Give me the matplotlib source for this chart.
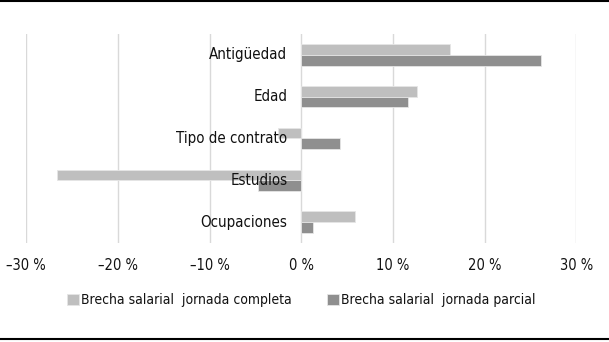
import matplotlib
matplotlib.use('Agg')
from matplotlib import pyplot as plt
from matplotlib.lines import Line2D
import numpy as np

plt.rcParams['font.family'] = ['DejaVu Sans']
plt.rcParams['font.stretch'] = 'condensed'

categories = ['Antigüedad', 'Edad', 'Tipo de contrato', 'Estudios', 'Ocupaciones']
completa = [16.2, 12.6, -2.6, -26.7, 5.9]   # jornada completa
parcial = [26.1, 11.6, 4.2, -4.7, 1.3]      # jornada parcial
labels = ['Brecha salarial  jornada completa', 'Brecha salarial  jornada parcial']
colors = ['#bfbfbf', '#8f8f8f']
xticks = [-30, -20, -10, 0, 10, 20, 30]
xticklabels = ['\u201330 %', '\u201320 %', '\u201310 %', '0 %', '10 %', '20 %', '30 %']

fig = plt.figure(figsize=(6.09, 3.42), dpi=100)
ax = fig.add_axes([0.0432, 0.2895, 0.9034, 0.6111])

y = np.arange(len(categories))
h = 0.256
ax.barh(y - h / 2, completa, height=h, color=colors[0], label=labels[0],
        edgecolor='#e6e6e6', linewidth=0.6, zorder=3)
ax.barh(y + h / 2, parcial, height=h, color=colors[1], label=labels[1],
        edgecolor='#e6e6e6', linewidth=0.6, zorder=3)

ax.set_xlim(-30, 30)
ax.set_ylim(len(categories) - 0.5, -0.5)
ax.set_xticks(xticks)
ax.set_xticklabels(xticklabels, fontsize=10.5)
ax.set_yticks([])
ax.tick_params(axis='x', length=0, pad=11, labelcolor='#111111')
ax.grid(axis='x', color='#d9d9d9', linewidth=1, zorder=0)
for s in ax.spines.values():
    s.set_visible(False)

# category labels sit next to the zero line, like Excel's axis at 0
for yi, name in zip(y, categories):
    ax.annotate(name, xy=(0, yi), xytext=(-10, 0), textcoords='offset points',
                ha='right', va='center', fontsize=10.8, color='#111111', zorder=4)

ax.legend(loc='center', bbox_to_anchor=(0.5, -0.275), ncol=2, frameon=False,
          fontsize=10, handlelength=0.85, handleheight=0.85, handletextpad=0.2,
          columnspacing=2.5, labelcolor='#111111')

fig.add_artist(Line2D([0, 1], [0.997, 0.997], color='black', linewidth=1.5))
fig.add_artist(Line2D([0, 1], [0.009, 0.009], color='black', linewidth=1.5))

fig.savefig('out.png', dpi=100)
